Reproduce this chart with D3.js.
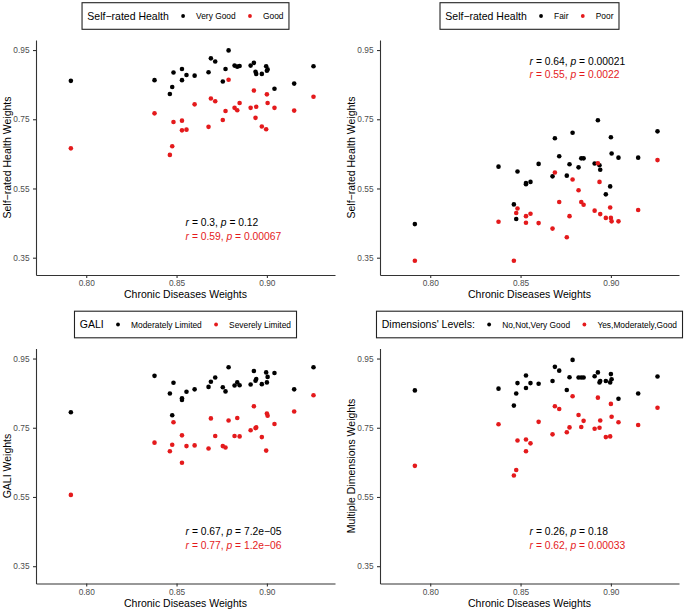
<!DOCTYPE html>
<html>
<head>
<meta charset="utf-8">
<script src="https://cdn.jsdelivr.net/npm/d3@7"></script>
<style>
body { margin: 0; background: #fff; }
text { font-family: "Liberation Sans", Arial, Helvetica, sans-serif; }
</style>
</head>
<body>
<div id="chart"></div>
<script>
// chronic diseases weights (x), same units in all four panels
var chronic = [0.7915, 0.8378, 0.8463, 0.8476, 0.8483, 0.8530, 0.8530, 0.8555, 0.8600, 0.8677,
               0.8690, 0.8714, 0.8756, 0.8771, 0.8788, 0.8821, 0.8836, 0.8849, 0.8910, 0.8928,
               0.8937, 0.8941, 0.8972, 0.8996, 0.9000, 0.9004, 0.9042, 0.9151, 0.9258];

var srhVeryGood = [0.861, 0.863, 0.823, 0.843, 0.885, 0.895, 0.863, 0.878, 0.876, 0.886,
                   0.926, 0.917, 0.859, 0.895, 0.949, 0.905, 0.902, 0.904, 0.905, 0.913,
                   0.887, 0.881, 0.881, 0.903, 0.890, 0.894, 0.838, 0.853, 0.903];
var srhGood     = [0.666, 0.767, 0.647, 0.672, 0.742, 0.718, 0.746, 0.720, 0.793, 0.728,
                   0.810, 0.802, 0.748, 0.774, 0.864, 0.783, 0.776, 0.797, 0.783, 0.833,
                   0.754, 0.786, 0.729, 0.721, 0.822, 0.797, 0.783, 0.775, 0.815];
var srhFair     = [0.447, 0.613, 0.504, 0.462, 0.599, 0.566, 0.562, 0.569, 0.621, 0.585,
                   0.695, 0.643, 0.587, 0.620, 0.711, 0.611, 0.637, 0.637, 0.622, 0.747,
                   0.617, 0.604, 0.533, 0.556, 0.698, 0.651, 0.639, 0.639, 0.715];
var srhPoor     = [0.341, 0.454, 0.341, 0.479, 0.492, 0.470, 0.451, 0.477, 0.450, 0.434,
                   0.596, 0.511, 0.409, 0.470, 0.576, 0.545, 0.511, 0.503, 0.486, 0.623,
                   0.569, 0.476, 0.465, 0.495, 0.465, 0.455, 0.455, 0.488, 0.632];
var galiModerate = [0.795, 0.900, 0.849, 0.786, 0.880, 0.830, 0.835, 0.854, 0.861, 0.868,
                    0.883, 0.895, 0.867, 0.855, 0.925, 0.872, 0.881, 0.873, 0.875, 0.914,
                    0.886, 0.891, 0.876, 0.910, 0.881, 0.897, 0.908, 0.861, 0.925];
var galiSevere   = [0.556, 0.707, 0.682, 0.701, 0.766, 0.728, 0.649, 0.697, 0.699, 0.690,
                    0.777, 0.726, 0.697, 0.693, 0.771, 0.726, 0.778, 0.725, 0.743, 0.812,
                    0.749, 0.751, 0.723, 0.684, 0.791, 0.785, 0.761, 0.797, 0.844];
var multiNo  = [0.858, 0.863, 0.814, 0.849, 0.879, 0.901, 0.865, 0.879, 0.877, 0.885,
                0.926, 0.915, 0.859, 0.896, 0.946, 0.895, 0.895, 0.895, 0.899, 0.910,
                0.881, 0.885, 0.885, 0.881, 0.905, 0.890, 0.834, 0.849, 0.898];
var multiYes = [0.640, 0.760, 0.612, 0.628, 0.713, 0.716, 0.682, 0.705, 0.767, 0.731,
                0.812, 0.804, 0.737, 0.751, 0.841, 0.787, 0.752, 0.770, 0.747, 0.837,
                0.750, 0.771, 0.723, 0.725, 0.819, 0.782, 0.766, 0.758, 0.808];

var xTicks = [0.80, 0.85, 0.90];
var yTicks = [0.35, 0.55, 0.75, 0.95];

// correlation labels [r, p] for black and red group
var statsSrhGood = [["0.3", "0.12"], ["0.59", "0.00067"]];
var statsSrhPoor = [["0.64", "0.00021"], ["0.55", "0.0022"]];
var statsGali    = [["0.67", "7.2e\u221205"], ["0.77", "1.2e\u221206"]];
var statsMulti   = [["0.26", "0.18"], ["0.62", "0.00033"]];

var w = 685;
var h = 611;
var colors = ["#000000", "#E41A1C"];
var margin = {top: 40, right: 6, bottom: 36, left: 36};
var colStep = 344;
var rowStep = 308.5;
var plotW = 299;
var plotH = 235;

var panels = [
  {col: 0, row: 0, ytitle: "Self\u2212rated Health Weights", legTitle: "Self\u2212rated Health",
   labels: ["Very Good", "Good"], ys: [srhVeryGood, srhGood], stats: statsSrhGood, annY: 0.441},
  {col: 1, row: 0, ytitle: "Self\u2212rated Health Weights", legTitle: "Self\u2212rated Health",
   labels: ["Fair", "Poor"], ys: [srhFair, srhPoor], stats: statsSrhPoor, annY: 0.907},
  {col: 0, row: 1, ytitle: "GALI Weights", legTitle: "GALI",
   labels: ["Moderately Limited", "Severely Limited"], ys: [galiModerate, galiSevere], stats: statsGali, annY: 0.439},
  {col: 1, row: 1, ytitle: "Multiple Dimensions Weights", legTitle: "Dimensions' Levels:",
   labels: ["No,Not,Very Good", "Yes,Moderately,Good"], ys: [multiNo, multiYes], stats: statsMulti, annY: 0.439}
];

var svg = d3.select("#chart").append("svg")
   .attr("width", w)
   .attr("height", h);

var x = d3.scaleLinear().domain([0.7722, 0.9377]).range([0, plotW]);
var y = d3.scaleLinear().domain([0.300, 0.979]).range([plotH, 0]);

panels.forEach(function(p) {
  var g = svg.append("g")
     .attr("transform", "translate(" + (p.col * colStep) + "," + (p.row * rowStep) + ")");
  var plot = g.append("g")
     .attr("transform", "translate(" + margin.left + "," + margin.top + ")");

  // axes
  var xa = plot.append("g")
     .attr("transform", "translate(0," + plotH + ")")
     .call(d3.axisBottom(x).tickValues(xTicks).tickFormat(d3.format(".2f")).tickSize(3).tickSizeOuter(0).tickPadding(2.6));
  var ya = plot.append("g")
     .call(d3.axisLeft(y).tickValues(yTicks).tickFormat(d3.format(".2f")).tickSize(3).tickSizeOuter(0).tickPadding(3.5));
  [xa, ya].forEach(function(a) {
    a.select(".domain").attr("stroke", "#333").attr("stroke-width", 1.1);
    a.selectAll(".tick line").attr("stroke", "#333").attr("stroke-width", 1.1);
    a.selectAll(".tick text").attr("fill", "#4d4d4d").attr("font-size", "8.3px")
     .attr("font-family", "Liberation Sans, Arial, sans-serif");
  });

  // axis titles
  plot.append("text")
     .attr("x", plotW / 2)
     .attr("y", plotH + 23)
     .attr("text-anchor", "middle")
     .attr("font-size", "10.5px")
     .attr("fill", "#000")
     .text("Chronic Diseases Weights");
  g.append("text")
     .attr("transform", "translate(10.5," + (margin.top + plotH / 2) + ") rotate(-90)")
     .attr("text-anchor", "middle")
     .attr("font-size", "10.5px")
     .attr("fill", "#000")
     .text(p.ytitle);

  // points
  p.ys.forEach(function(vals, k) {
    plot.append("g").selectAll("circle")
       .data(vals)
       .enter()
       .append("circle")
       .attr("cx", function(d, i) { return x(chronic[i]); })
       .attr("cy", function(d) { return y(d); })
       .attr("r", 2.3)
       .attr("fill", colors[k]);
  });

  // correlation text
  p.stats.forEach(function(s, k) {
    var t = plot.append("text")
       .attr("x", x(0.855))
       .attr("y", y(p.annY) + k * 13.3)
       .attr("font-size", "10.3px")
       .attr("fill", colors[k]);
    t.append("tspan").attr("font-style", "italic").text("r");
    t.append("tspan").text(" = " + s[0] + ", ");
    t.append("tspan").attr("font-style", "italic").text("p");
    t.append("tspan").text(" = " + s[1]);
  });

  // legend on top, centred over the plot area
  var leg = g.append("g");
  var box = leg.append("rect")
     .attr("y", 2.7)
     .attr("height", 26.6)
     .attr("fill", "#fff")
     .attr("stroke", "#222")
     .attr("stroke-width", 1.1);
  var title = leg.append("text")
     .attr("y", 19.8)
     .attr("font-size", "10.5px")
     .attr("fill", "#000")
     .text(p.legTitle);
  var l1 = leg.append("text").attr("y", 19).attr("font-size", "8.4px").attr("fill", "#000").text(p.labels[0]);
  var l2 = leg.append("text").attr("y", 19).attr("font-size", "8.4px").attr("fill", "#000").text(p.labels[1]);
  var tw = title.node().getComputedTextLength();
  var w1 = l1.node().getComputedTextLength();
  var w2 = l2.node().getComputedTextLength();
  var total = 5.3 + tw + 14.3 + 13 + w1 + 14.3 + 13 + w2 + 5.5;
  var bx = margin.left + plotW / 2 - total / 2;
  box.attr("x", bx).attr("width", total);
  title.attr("x", bx + 5.3);
  var d1 = bx + 5.3 + tw + 14.3;
  l1.attr("x", d1 + 13);
  var d2 = d1 + 13 + w1 + 14.3;
  l2.attr("x", d2 + 13);
  leg.append("circle").attr("cx", d1).attr("cy", 16).attr("r", 1.9).attr("fill", colors[0]);
  leg.append("circle").attr("cx", d2).attr("cy", 16).attr("r", 1.9).attr("fill", colors[1]);
});
</script>
</body>
</html>
